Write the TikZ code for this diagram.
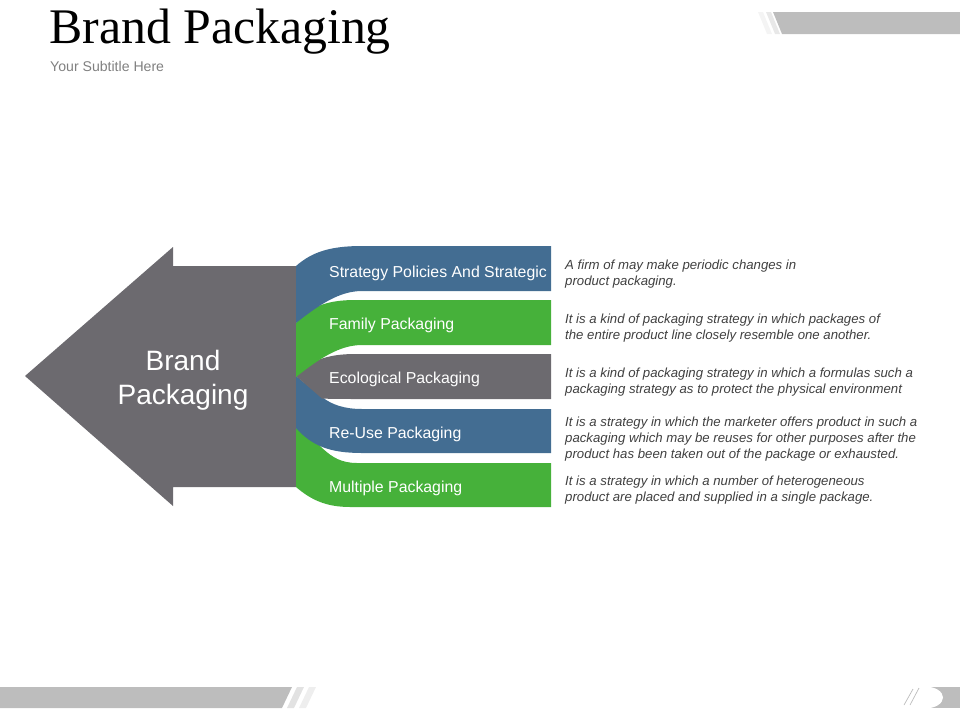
\documentclass[tikz,border=0pt]{standalone}
\usepackage{fontspec}
\setmainfont{Liberation Sans}
\newfontfamily\titlefont{Liberation Serif}
\definecolor{arrowgray}{HTML}{6C6A6F}
\definecolor{bandblue}{HTML}{436D92}
\definecolor{bandgreen}{HTML}{46B13A}
\definecolor{bargray}{HTML}{BDBDBD}
\definecolor{stripegray}{HTML}{E2E2E2}
\definecolor{desctext}{HTML}{404040}
\begin{document}
\begin{tikzpicture}[
   x=1pt, y=-1pt,
   bandlabel/.style={anchor=west, text=white, inner sep=0pt, font=\fontsize{15.85}{18}\selectfont},
   desclabel/.style={anchor=west, align=left, text=desctext, inner sep=0pt,
      font=\fontsize{13.2}{16.2}\selectfont\itshape}]

\useasboundingbox (0,0) rectangle (960,720);

% corner bars
\fill[bargray] (773,12) -- (960,12) -- (960,34) -- (782,34) -- cycle;
\fill[stripegray!80] (766,12) -- (771,12) -- (780,34) -- (775,34) -- cycle;
\fill[stripegray!40] (758,12) -- (763,12) -- (772,34) -- (767,34) -- cycle;
\fill[bargray] (0,687) -- (292,687) -- (282,708) -- (0,708) -- cycle;
\fill[stripegray] (297,687) -- (304,687) -- (294,708) -- (287,708) -- cycle;
\fill[stripegray!60] (309,687) -- (316,687) -- (306,708) -- (299,708) -- cycle;
\fill[bargray] (925,687) -- (960,687) -- (960,708) -- (925,708) -- cycle;
\fill[white] (925,697.5) ellipse [x radius=18, y radius=11];
\draw[bargray, line width=.7pt] (919,688) -- (910,705) (913,689) -- (904,705);

% big arrow
\fill[arrowgray] (25,376) -- (173,247) -- (173,266) -- (296,266) -- (296,487)
   -- (173,487) -- (173,506) -- cycle;

% bands, lower ones first
\fill[bandgreen] (296,428) .. controls (320,438) and (325,463) .. (357,463) -- (551,463) -- (551,507)
   -- (350,507) .. controls (325,507) and (310,499) .. (296,487) -- cycle;
\fill[bandblue] (296,376) -- (322,397) .. controls (332,405) and (345,409) .. (362,409) -- (551,409) -- (551,453)
   -- (362,453) .. controls (330,453) and (312,446) .. (296,428) -- cycle;
\fill[arrowgray] (296,376) .. controls (308,362) and (325,354) .. (355,354) -- (551,354) -- (551,399)
   -- (362,399) .. controls (345,399) and (330,399) .. (322,398.5) -- cycle;
\fill[bandgreen] (296,323) .. controls (308,308) and (325,300) .. (355,300) -- (551,300) -- (551,345)
   -- (362,345) .. controls (340,345) and (320,358) .. (296,377) -- cycle;
\fill[bandblue] (296,266) .. controls (312,252) and (330,246) .. (362,246) -- (551,246) -- (551,291)
   -- (362,291) .. controls (340,291) and (320,304) .. (296,323) -- cycle;

% title
\node[anchor=west, inner sep=0pt, font=\fontsize{49.8}{54}\selectfont\titlefont] (title) at (49,32) {Brand Packaging};
\node[anchor=west, inner sep=0pt, text=gray, font=\fontsize{14.1}{16}\selectfont] (subtitle) at (50,66) {Your Subtitle Here};

\node[align=center, text=white, inner sep=0pt, font=\fontsize{28}{34}\selectfont] (brand) at (183,380) {Brand\\Packaging};

\node[bandlabel] (strategy) at (329,273) {Strategy Policies And Strategic};
\node[bandlabel] (family) at (329,325) {Family Packaging};
\node[bandlabel] (ecological) at (329,379) {Ecological Packaging};
\node[bandlabel] (reuse) at (329,434) {Re-Use Packaging};
\node[bandlabel] (multiple) at (329,488) {Multiple Packaging};

\node[desclabel] (strategydesc) at (565,274) {A firm of may make periodic changes in\\product packaging.};
\node[desclabel] (familydesc) at (565,328) {It is a kind of packaging strategy in which packages of\\the entire product line closely resemble one another.};
\node[desclabel] (ecologicaldesc) at (565,382) {It is a kind of packaging strategy in which a formulas such a\\packaging strategy as to protect the physical environment};
\node[desclabel] (reusedesc) at (565,439) {It is a strategy in which the marketer offers product in such a\\packaging which may be reuses for other purposes after the\\product has been taken out of the package or exhausted.};
\node[desclabel] (multipledesc) at (565,490) {It is a strategy in which a number of heterogeneous\\product are placed and supplied in a single package.};

\end{tikzpicture}
\end{document}
